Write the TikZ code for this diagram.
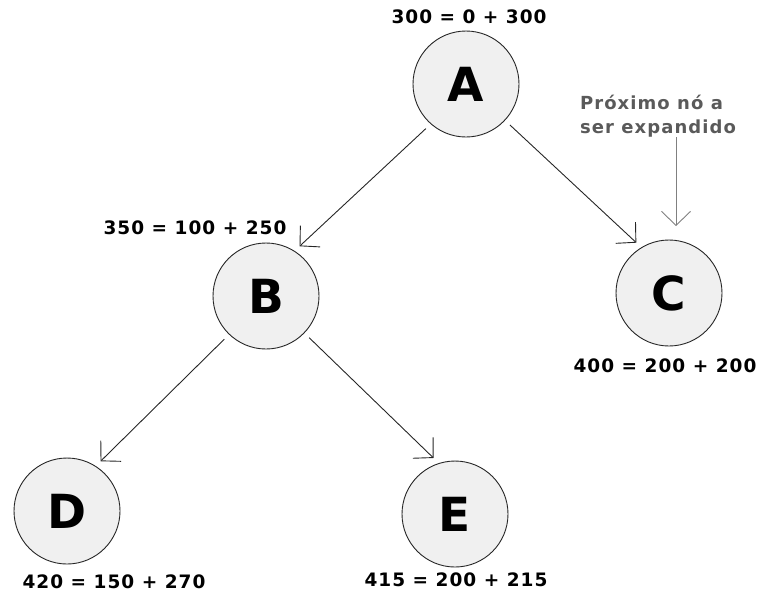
\documentclass[tikz,border=0pt]{standalone}
\usepackage{fontspec}
\setmainfont{DejaVu Sans}
\usetikzlibrary{arrows.meta}
\definecolor{nodefill}{HTML}{F0F0F0}
\definecolor{notegray}{HTML}{5A5A5A}
\definecolor{arrgray}{HTML}{808080}
\begin{document}
\begin{tikzpicture}[x=1pt,y=-1pt,
  nd/.style={circle,draw=black!85,fill=nodefill,line width=0.9pt,minimum size=106pt,inner sep=0pt,outer sep=7pt,font=\fontsize{47}{47}\selectfont\bfseries},
  lab/.style={inner sep=0pt,font=\fontsize{18.5}{18.5}\selectfont\bfseries\addfontfeature{LetterSpace=5.5}},
  conn/.style={line width=0.9pt,draw=black!85,-{Straight Barb[length=14pt,width=29pt,line width=0.9pt]}},
]
\useasboundingbox (0,0) rectangle (759,598);
\node[nd] (A) at (466,84) {A};
\node[nd] (B) at (266,296) {B};
\node[nd] (C) at (669,293) {C};
\node[nd] (D) at (67,511) {D};
\node[nd] (E) at (455,514) {E};

\node[lab] (lA) at (469,17) {300 = 0 + 300};
\node[lab] (lB) at (195,228) {350 = 100 + 250};
\node[lab] (lC) at (665,366) {400 = 200 + 200};
\node[lab] (lD) at (114,582) {420 = 150 + 270};
\node[lab] (lE) at (456,580) {415 = 200 + 215};

\node[lab,text=notegray,align=left,font=\fontsize{18}{23.5}\selectfont\bfseries\addfontfeature{LetterSpace=6}] (note) at (658,116) {Próximo nó a\\ser expandido};
\coordinate (cp) at (676,226);

\draw[conn] (A.228) -- (B.56);
\draw[conn] (A.317) -- (C.123);
\draw[conn] (B.226) -- (D.56);
\draw[conn] (B.316) -- (E.111);
\draw[conn,draw=arrgray] (note.south -| cp) -- (cp);
\end{tikzpicture}
\end{document}
